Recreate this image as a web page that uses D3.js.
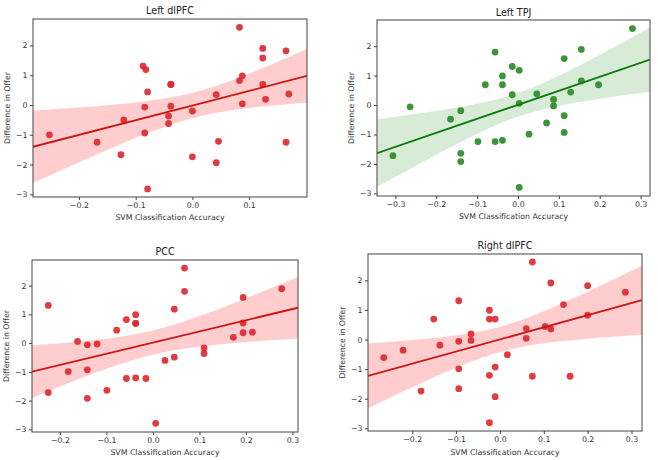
<!DOCTYPE html>
<html><head><meta charset="utf-8">
<script src="https://cdn.jsdelivr.net/npm/d3@7"></script>
<style>body{margin:0;background:#fff}svg{display:block}text{font-family:"DejaVu Sans",sans-serif}</style>
</head><body><svg id="c" width="658" height="460"></svg>
<script>
// ---------- data ----------
const titles = ["Left dlPFC", "Left TPJ", "PCC", "Right dlPFC"];
const xLabel = "SVM Classification Accuracy";
const yLabel = "Difference in Offer";
const yTicks = [-3, -2, -1, 0, 1, 2];

const leftDlpfcX = [-0.252,-0.168,-0.126,-0.121,-0.087,-0.082,-0.079,-0.084,-0.084,-0.079,-0.038,-0.038,-0.038,-0.042,-0.042,0.0,0.0,0.042,0.042,0.046,0.083,0.083,0.088,0.088,0.124,0.124,0.124,0.129,0.165,0.17,0.165];
const leftDlpfcY = [-1.0,-1.25,-1.67,-0.5,1.31,1.19,0.44,-0.07,-0.94,-2.82,0.69,0.69,-0.04,-0.37,-0.62,-0.2,-1.74,0.35,-1.94,-1.22,2.61,0.82,0.98,0.04,1.9,1.58,0.69,0.19,1.82,0.37,-1.25];
const leftDlpfcTicks = [-0.2, -0.1, 0.0, 0.1];

const leftTpjX = [-0.306,-0.264,-0.165,-0.14,-0.14,-0.14,-0.098,-0.08,-0.056,-0.056,-0.038,-0.038,-0.038,-0.014,-0.014,0.003,0.003,0.003,0.027,0.046,0.07,0.087,0.087,0.113,0.113,0.113,0.129,0.155,0.155,0.197,0.28];
const leftTpjY = [-1.72,-0.06,-0.48,-0.19,-1.64,-1.92,-1.24,0.69,1.8,-1.24,0.99,0.69,-1.2,1.31,0.35,1.18,0.06,-2.8,-0.99,0.38,-0.61,0.19,-0.03,1.58,-0.36,-0.93,0.44,1.89,0.82,0.69,2.6];
const leftTpjTicks = [-0.3, -0.2, -0.1, 0.0, 0.1, 0.2, 0.3];

const pccX = [-0.225,-0.225,-0.182,-0.162,-0.141,-0.141,-0.141,-0.12,-0.099,-0.078,-0.057,-0.057,-0.037,-0.037,-0.037,-0.037,-0.015,0.006,0.026,0.046,0.046,0.068,0.068,0.11,0.11,0.173,0.194,0.194,0.194,0.214,0.277];
const pccY = [1.31,-1.72,-0.99,0.06,-0.06,-0.93,-1.92,-0.03,-1.64,0.45,0.82,-1.23,0.99,0.69,0.69,-1.21,-1.23,-2.79,-0.6,1.18,-0.49,2.61,1.8,-0.17,-0.36,0.2,1.59,0.7,0.36,0.38,1.89];
const pccTicks = [-0.2, -0.1, 0.0, 0.1, 0.2, 0.3];

const rightDlpfcX = [-0.265,-0.221,-0.18,-0.151,-0.137,-0.094,-0.094,-0.094,-0.094,-0.066,-0.066,-0.024,-0.024,-0.024,-0.024,-0.011,-0.011,-0.011,0.017,0.06,0.06,0.074,0.074,0.103,0.116,0.116,0.145,0.16,0.2,0.2,0.286];
const rightDlpfcY = [-0.61,-0.36,-1.74,0.69,-0.19,1.31,-0.06,-0.99,-1.66,0.19,-0.03,0.99,0.69,-1.21,-2.81,0.69,-0.93,-1.93,-0.51,0.37,0.04,2.62,-1.24,0.44,1.91,0.36,1.18,-1.24,1.82,0.82,1.6];
const rightDlpfcTicks = [-0.2, -0.1, 0.0, 0.1, 0.2, 0.3];

// ---------- layout ----------
const panels = [
  {title: titles[0], xs: leftDlpfcX, ys: leftDlpfcY, ticks: leftDlpfcTicks, xlim: [-0.281, 0.202],
   box: {l: 33, r: 307, t: 19, b: 197}, ylabX: 7, titleY: 13.5, xlabY: 219.5, theme: "red"},
  {title: titles[1], xs: leftTpjX, ys: leftTpjY, ticks: leftTpjTicks, xlim: [-0.345, 0.323],
   box: {l: 377, r: 650, t: 20, b: 196}, ylabX: 351, titleY: 16, xlabY: 219, theme: "green"},
  {title: titles[2], xs: pccX, ys: pccY, ticks: pccTicks, xlim: [-0.26, 0.312],
   box: {l: 32, r: 298, t: 260, b: 432}, ylabX: 6.5, titleY: 255, xlabY: 454.5, theme: "red"},
  {title: titles[3], xs: rightDlpfcX, ys: rightDlpfcY, ticks: rightDlpfcTicks, xlim: [-0.301, 0.324],
   box: {l: 368, r: 642, t: 254, b: 431}, ylabX: 342, titleY: 248.5, xlabY: 454.5, theme: "red"}
];
const themes = {
  red:   {line: "#cc1414", pt: "#dc2a30", band: "#ffc4c4"},
  green: {line: "#0b7a0b", pt: "#2a8d2a", band: "#d0e7d0"}
};
const ylim = [-3.09, 2.89];

const svg = d3.select("#c");

function regression(xs, ys) {
  const n = xs.length, mx = d3.mean(xs), my = d3.mean(ys);
  let sxx = 0, sxy = 0;
  for (let i = 0; i < n; i++) { sxx += (xs[i]-mx)**2; sxy += (xs[i]-mx)*(ys[i]-my); }
  const b = sxy / sxx, a = my - b * mx;
  let sse = 0;
  for (let i = 0; i < n; i++) sse += (ys[i] - a - b*xs[i])**2;
  const s = Math.sqrt(sse / (n - 2));
  const t = 2.045;
  return {a, b, half: x => t * s * Math.sqrt(1/n + (x-mx)**2 / sxx)};
}

panels.forEach(p => {
  const th = themes[p.theme];
  const x = d3.scaleLinear().domain(p.xlim).range([p.box.l, p.box.r]);
  const y = d3.scaleLinear().domain(ylim).range([p.box.b, p.box.t]);
  const g = svg.append("g");
  const clipId = "clip" + p.box.l + "_" + p.box.t;
  g.append("clipPath").attr("id", clipId).append("rect")
    .attr("x", p.box.l).attr("y", p.box.t).attr("width", p.box.r - p.box.l).attr("height", p.box.b - p.box.t);

  const reg = regression(p.xs, p.ys);
  const grid = d3.range(0, 101).map(i => p.xlim[0] + (p.xlim[1]-p.xlim[0]) * i / 100);
  const inner = g.append("g").attr("clip-path", `url(#${clipId})`);
  inner.append("path")
    .datum(grid)
    .attr("d", d3.area().x(d => x(d)).y0(d => y(reg.a + reg.b*d - reg.half(d))).y1(d => y(reg.a + reg.b*d + reg.half(d))))
    .attr("fill", th.band).attr("opacity", 0.85);
  inner.selectAll("circle").data(p.xs.map((v, i) => [v, p.ys[i]])).join("circle")
    .attr("cx", d => x(d[0])).attr("cy", d => y(d[1])).attr("r", 3.4).attr("fill", th.pt).attr("opacity", 0.92);
  inner.append("path").datum(p.xlim)
    .attr("d", d3.line().x(d => x(d)).y(d => y(reg.a + reg.b*d)))
    .attr("stroke", th.line).attr("stroke-width", 1.8).attr("fill", "none");

  const xa = g.append("g").attr("transform", `translate(0,${p.box.b})`)
    .call(d3.axisBottom(x).tickValues(p.ticks).tickFormat(d3.format(".1f")).tickSize(3).tickPadding(2.5));
  const ya = g.append("g").attr("transform", `translate(${p.box.l},0)`)
    .call(d3.axisLeft(y).tickValues(yTicks).tickFormat(d3.format("d")).tickSize(3).tickPadding(2.5));
  [xa, ya].forEach(a => {
    a.select(".domain").remove();
    a.selectAll("line").attr("stroke", "#444");
    a.selectAll("text").attr("fill", "#333").style("font-size", "7.8px").style("font-family", "DejaVu Sans");
  });
  g.append("rect").attr("x", p.box.l).attr("y", p.box.t)
    .attr("width", p.box.r - p.box.l).attr("height", p.box.b - p.box.t)
    .attr("fill", "none").attr("stroke", "#444").attr("stroke-width", 1);

  const cx = (p.box.l + p.box.r) / 2;
  g.append("text").attr("x", cx).attr("y", p.titleY).attr("text-anchor", "middle")
    .style("font-size", "9.6px").attr("fill", "#222").text(p.title);
  g.append("text").attr("x", cx).attr("y", p.xlabY).attr("text-anchor", "middle")
    .style("font-size", "7.8px").attr("fill", "#333").text(xLabel);
  g.append("text").attr("transform", `translate(${p.ylabX},${(p.box.t + p.box.b)/2}) rotate(-90)`)
    .attr("text-anchor", "middle").attr("dy", "0.35em")
    .style("font-size", "7.8px").attr("fill", "#333").text(yLabel);
});
</script></body></html>
